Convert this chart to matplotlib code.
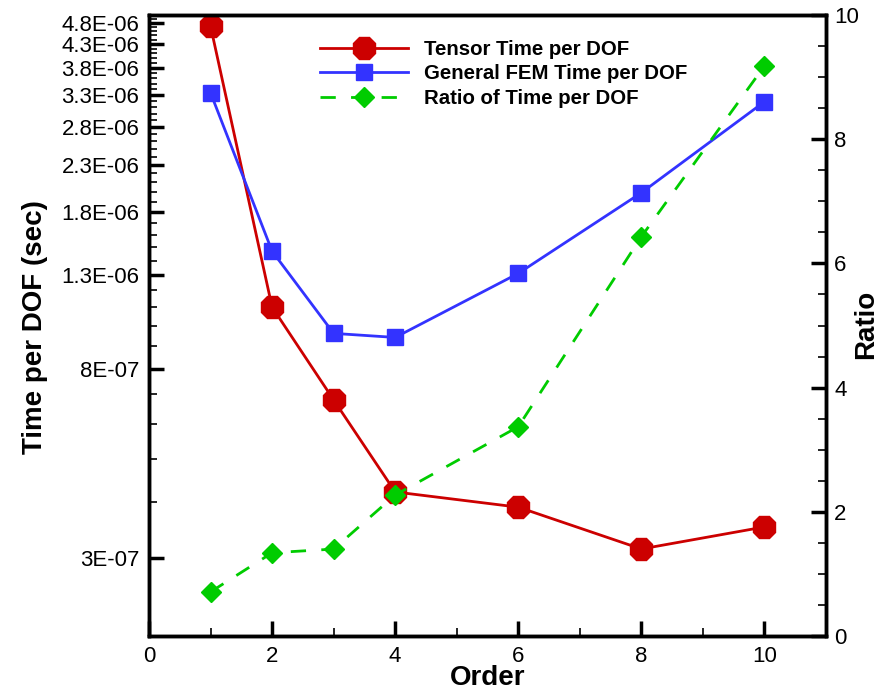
import matplotlib
matplotlib.use("Agg")
import matplotlib.pyplot as plt
from matplotlib.ticker import FixedLocator, MultipleLocator, NullFormatter
import numpy as np

plt.rcParams['font.family'] = ['Liberation Sans', 'DejaVu Sans']

order = [1, 2, 3, 4, 6, 8, 10]
tensor_time = [4.72e-6, 1.10e-6, 6.8e-7, 4.22e-7, 3.90e-7, 3.14e-7, 3.52e-7]
fem_time = [3.34e-6, 1.47e-6, 9.6e-7, 9.4e-7, 1.31e-6, 1.99e-6, 3.19e-6]
ratio = [0.71, 1.34, 1.40, 2.27, 3.37, 6.43, 9.18]

left_ticks = [3e-7, 8e-7, 1.3e-6, 1.8e-6, 2.3e-6, 2.8e-6, 3.3e-6, 3.8e-6, 4.3e-6, 4.8e-6]
left_labels = ["3E-07", "8E-07", "1.3E-06", "1.8E-06", "2.3E-06", "2.8E-06",
               "3.3E-06", "3.8E-06", "4.3E-06", "4.8E-06"]
left_minor = [v * 1e-7 for v in range(2, 50)]

red = '#cc0000'
blue = '#3333ff'
green = '#00cc00'

fig = plt.figure(figsize=(8.84, 6.9), dpi=100)
ax = fig.add_axes([149/884, 1-636/690, 677/884, 621/690])
ax2 = ax.twinx()

l1, = ax.plot(order, tensor_time, color=red, lw=2, marker='8', ms=17,
              label='Tensor Time per DOF')
l2, = ax.plot(order, fem_time, color=blue, lw=2, marker='s', ms=11.5,
              label='General FEM Time per DOF')
l3, = ax2.plot(order, ratio, color=green, lw=2, marker='D', ms=10,
               dashes=(5.5, 5.5), label='Ratio of Time per DOF')

ax.set_yscale('log')
ax.set_ylim(2e-7, 5e-6)
ax.set_xlim(0, 11)
ax2.set_ylim(0, 10)

ax.yaxis.set_major_locator(FixedLocator(left_ticks))
ax.yaxis.set_ticklabels(left_labels)
ax.yaxis.set_minor_locator(FixedLocator(left_minor))
ax.yaxis.set_minor_formatter(NullFormatter())

ax.xaxis.set_major_locator(MultipleLocator(2))
ax.xaxis.set_minor_locator(MultipleLocator(1))
ax2.yaxis.set_major_locator(MultipleLocator(2))
ax2.yaxis.set_minor_locator(MultipleLocator(0.5))

for a in (ax, ax2):
    for s in a.spines.values():
        s.set_linewidth(2.5)

ax.tick_params(axis='both', which='major', direction='in', length=11, width=2.5,
               labelsize=16, pad=7, top=False, right=False)
ax.tick_params(axis='both', which='minor', direction='in', length=6, width=1.2,
               top=False, right=False)
ax2.tick_params(axis='y', which='major', direction='in', length=11, width=2.5,
                labelsize=16, pad=6)
ax2.tick_params(axis='y', which='minor', direction='in', length=6, width=1.2)

ax.set_xlabel('Order', fontsize=20, fontweight='bold')
ax.set_ylabel('Time per DOF (sec)', fontsize=20, fontweight='bold')
ax2.set_ylabel('Ratio', fontsize=20, fontweight='bold')
ax.xaxis.set_label_coords(0.5, -0.046)
ax.yaxis.set_label_coords(-0.149, 0.498)
ax2.yaxis.set_label_coords(1.040, 0.502)

leg = ax2.legend(handles=[l1, l2, l3], loc='upper left', bbox_to_anchor=(0.253, 0.960),
                 frameon=False, handlelength=4.3, labelspacing=0.27, borderpad=0,
                 borderaxespad=0, handletextpad=0.8,
                 prop={'weight': 'bold', 'size': 14.7})

fig.savefig('out.png', dpi=100)
